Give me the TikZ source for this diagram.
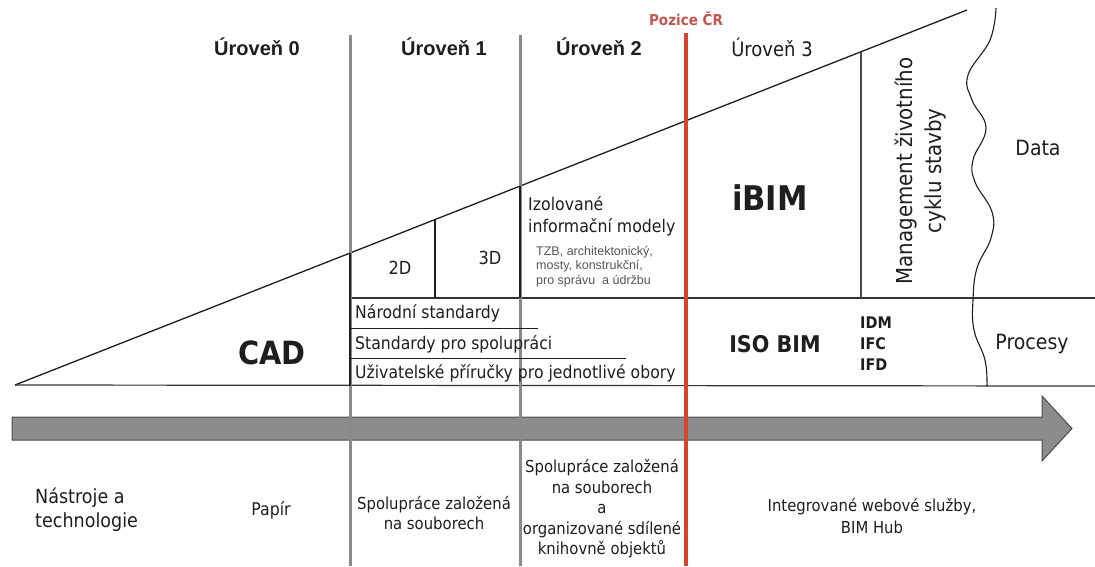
\documentclass[tikz,border=0pt]{standalone}
\usepackage{fontspec}
\setmainfont{DejaVu Sans}[FakeStretch=0.9]
\newfontfamily\arialfam{Liberation Sans}

\definecolor{axisgray}{HTML}{8A8A8A}
\definecolor{posred}{HTML}{D8432B}
\definecolor{labelred}{HTML}{C4564F}
\definecolor{arrowfill}{HTML}{8C8C8C}
\definecolor{arrowedge}{HTML}{4D4D4D}
\definecolor{ink}{HTML}{1E1E1E}
\definecolor{smallgray}{HTML}{555555}

\newcommand\fsz[2]{\fontsize{#1}{#2}\selectfont}

\begin{document}
\begin{tikzpicture}[x=1pt,y=-1pt,
  edge/.style={line width=1.3pt, draw=ink},
  rule/.style={line width=1.2pt, draw=black!80},
  levelline/.style={line width=3pt, draw=axisgray},
  nowline/.style={line width=4pt, draw=posred},
  level/.style={font=\arialfam\bfseries\fsz{20}{24}, text=ink},
  txt/.style={text=ink, inner sep=0pt}]

\fill[white] (0,0) rectangle (1095,566);
\useasboundingbox (0,0) rectangle (1095,566);

% time arrow
\draw[fill=arrowfill, draw=arrowedge, line width=1pt]
  (12,417) -- (1042,417) -- (1042,396) -- (1072,428.5) -- (1042,461)
  -- (1042,440) -- (12,440) -- cycle;

% main triangle
\coordinate (dstart) at (15,385);
\coordinate (dend) at (967,10);
\coordinate (bend) at (1095,386);
\draw[edge] (dstart) -- (dend);
\draw[rule] (dstart) -- (bend);
\draw[rule] (350,298) -- (1095,298);

% level separators
\draw[levelline] (350,35) -- (350,566);
\draw[levelline] (520,35) -- (520,566);
\draw[edge] (350,252.5) -- (350,386);
\draw[edge] (520,185.5) -- (520,298);
\draw[edge] (435,219) -- (435,298);
\draw[line width=1.3pt, draw=black!70] (861,51.5) -- (861,298);

% standards underlines
\draw[line width=1pt, draw=ink] (350,328) -- (538,328);
\draw[line width=1pt, draw=ink] (350,358) -- (626,358);

% wavy boundary
\draw[line width=1.1pt, draw=ink] plot[smooth, tension=0.7] coordinates {
  (996,8) (990,40) (968,75) (972,100) (986,128) (973,160) (975,182)
  (992,212) (991,238) (977,268) (973,300) (974,330) (985,360) (987,386)};

% current position
\draw[nowline] (686,33) -- (686,566);

% headings
\node[level] (l0) at (257,47) {Úroveň 0};
\node[level] (l1) at (444,47) {Úroveň 1};
\node[level] (l2) at (599,47) {Úroveň 2};
\node[txt, font=\fsz{20}{24}] (l3) at (772,47) {Úroveň 3};
\node[txt, text=labelred, font=\bfseries\fsz{15}{18}] (pos) at (686,19) {Pozice ČR};

% triangle contents
\node[txt, font=\bfseries\fsz{32}{36}] (cad) at (272,353) {CAD};
\node[txt, font=\fsz{18}{22}] (d2) at (400,268) {2D};
\node[txt, font=\fsz{18}{22}] (d3) at (490,258) {3D};
\node[txt, font=\fsz{17.5}{22}, anchor=west, align=left] (iso) at (528,216)
  {Izolované\\informační modely};
\node[txt, text=smallgray, font=\arialfam\fsz{12.5}{14.5}, anchor=west, align=left] (obory) at (536,266.5)
  {TZB, architektonický,\\mosty, konstrukční,\\pro správu~ a údržbu};
\node[txt, font=\bfseries\fsz{34}{38}] (ibim) at (770,198) {iBIM};
\node[txt, font=\fsz{22}{29}, rotate=90, align=center] (mgmt) at (920,171)
  {Management životního\\cyklu stavby};
\node[txt, font=\fsz{21}{24}] (data) at (1038,148) {Data};

% standards band
\node[txt, font=\fsz{17.4}{20}, anchor=west] (ns) at (355,313) {Národní standardy};
\node[txt, font=\fsz{17.4}{20}, anchor=west] (sps) at (355,344) {Standardy pro spolupráci};
\node[txt, font=\fsz{17.4}{20}, anchor=west] (up) at (355,373) {Uživatelské příručky pro jednotlivé obory};
\node[txt, font=\bfseries\fsz{23}{26}] (isobim) at (775,344) {ISO BIM};
\node[txt, font=\bfseries\fsz{16}{21}, anchor=west, align=left] (ifc) at (860,344) {IDM\\IFC\\IFD};
\node[txt, font=\fsz{21}{24}] (proc) at (1032,344) {Procesy};

% tools and technologies
\node[txt, font=\fsz{19.5}{24}, anchor=west, align=left] (tools) at (35,510)
  {Nástroje a\\technologie};
\node[txt, font=\fsz{17.5}{20}] (papir) at (271,510) {Papír};
\node[txt, font=\fsz{16.5}{20}, align=center] (files) at (434,513)
  {Spolupráce založená\\na souborech};
\node[txt, font=\fsz{16.5}{20.5}, align=center] (shared) at (602,509)
  {Spolupráce založená\\na souborech\\a\\organizované sdílené\\knihovně objektů};
\node[txt, font=\fsz{16.5}{21.5}, align=center] (web) at (872,516)
  {Integrované webové služby,\\BIM Hub};
\end{tikzpicture}
\end{document}
